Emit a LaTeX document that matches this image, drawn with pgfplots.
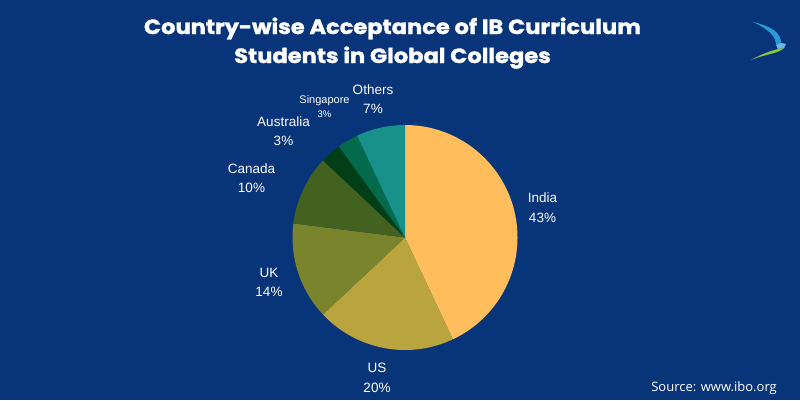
\documentclass[border=0pt]{standalone}
\usepackage{pgfplots}
\pgfplotsset{compat=1.18}
\usepackage{pgfplotstable}
\usepackage{fontspec}
\setmainfont{Liberation Sans}
\newfontfamily\titlefont{Poppins}[BoldFeatures={FakeBold=1.5}]
\newfontfamily\srcfont{Open Sans}

\definecolor{bg}{HTML}{08357A}
\definecolor{cIndia}{HTML}{FFBD5C}
\definecolor{cUS}{HTML}{B9A43E}
\definecolor{cUK}{HTML}{7A842C}
\definecolor{cCanada}{HTML}{44621F}
\definecolor{cAustralia}{HTML}{033F16}
\definecolor{cSingapore}{HTML}{036A4B}
\definecolor{cOthers}{HTML}{17918A}
\definecolor{birdblue}{HTML}{2A9AD8}
\definecolor{birdgreen}{HTML}{8CC63F}

% share in percent, slice colour, label centre x, name and percent baselines, font sizes
\pgfplotstableread[col sep=comma]{
name,pct,col,lx,nb,pb,fs,ps
India,43,cIndia,542.5,198,178,13.5,13.5
US,20,cUS,377,28,8,13.5,13.5
UK,14,cUK,269,123,104,13.5,13.5
Canada,10,cCanada,251.5,227,208,13.5,13.5
Australia,3,cAustralia,283.5,274,255,13.5,13.5
Singapore,3,cSingapore,324.5,297,283,11,9.5
Others,7,cOthers,373,306,287,13.5,13.5
}\piedata

\begin{document}
\begin{tikzpicture}
\begin{axis}[
  hide axis, scale only axis, clip=false,
  x=1pt, y=1pt,
  xmin=0, xmax=800, ymin=0, ymax=400,
]
\pgfplotsextra{
  \fill[bg] (axis cs:0,0) rectangle (axis cs:800,400);
  \pgfplotstablegetrowsof{\piedata}
  \pgfmathtruncatemacro\last{\pgfplotsretval-1}
  \def\cur{90}
  \pgfplotsforeachungrouped \i in {0,...,\last}{
    \pgfplotstablegetelem{\i}{pct}\of\piedata \let\pv\pgfplotsretval
    \pgfplotstablegetelem{\i}{col}\of\piedata \let\sc\pgfplotsretval
    \pgfmathsetmacro\nxt{\cur-3.6*\pv}
    \fill[\sc] (axis cs:405,162.5) -- ++(\cur:112.5pt)
      arc[start angle=\cur, end angle=\nxt, radius=112.5pt] -- cycle;
    \let\cur\nxt
    \pgfplotstablegetelem{\i}{name}\of\piedata \let\nm\pgfplotsretval
    \pgfplotstablegetelem{\i}{lx}\of\piedata \let\lx\pgfplotsretval
    \pgfplotstablegetelem{\i}{nb}\of\piedata \let\nb\pgfplotsretval
    \pgfplotstablegetelem{\i}{pb}\of\piedata \let\pb\pgfplotsretval
    \pgfplotstablegetelem{\i}{fs}\of\piedata \let\fs\pgfplotsretval
    \pgfplotstablegetelem{\i}{ps}\of\piedata \let\ps\pgfplotsretval
    \node[anchor=base, text=white, inner sep=0pt, font=\fontsize{\fs}{\fs}\selectfont]
      at (axis cs:\lx,\nb) {\nm};
    \node[anchor=base, text=white, inner sep=0pt, font=\fontsize{\ps}{\ps}\selectfont]
      at (axis cs:\lx,\pb) {\pv\%};
  }
  % title
  \node[anchor=base, text=white, inner sep=0pt, xscale=1.1, font=\titlefont\bfseries\fontsize{20.5}{21}\selectfont]
    at (axis cs:392.5,366) {Country-wise Acceptance of IB Curriculum};
  \node[anchor=base, text=white, inner sep=0pt, xscale=1.1, font=\titlefont\bfseries\fontsize{20.5}{21}\selectfont]
    at (axis cs:392.5,337) {Students in Global Colleges};
  % source
  \node[anchor=base east, text=white, inner sep=0pt, font=\srcfont\fontsize{13}{13}\selectfont]
    at (axis cs:777,9) {Source: www.ibo.org};
  % logo
  \fill[birdblue] (axis cs:753,378) .. controls (axis cs:770,374) and (axis cs:781,368) .. (axis cs:781,357)
    -- (axis cs:776,355) .. controls (axis cs:776,364) and (axis cs:768,371) .. (axis cs:753,378);
  \fill[birdblue!70!white] (axis cs:776,355) -- (axis cs:781,357) -- (axis cs:786,356) -- (axis cs:784,352) -- (axis cs:778,351) -- cycle;
  \fill[birdgreen] (axis cs:778,351) -- (axis cs:784,352) .. controls (axis cs:778,346) and (axis cs:765,346) .. (axis cs:751,340)
    .. controls (axis cs:762,346) and (axis cs:770,349) .. (axis cs:778,351);
}
\end{axis}
\end{tikzpicture}
\end{document}
